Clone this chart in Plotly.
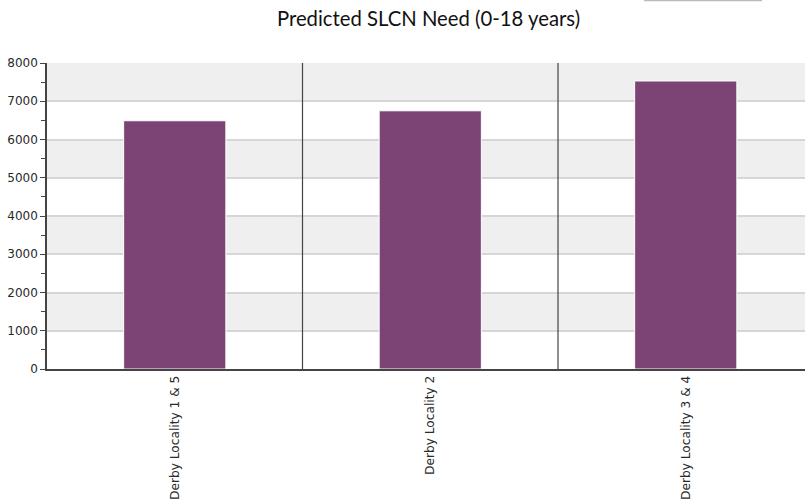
import plotly.graph_objects as go

categories = ["Derby Locality 1 & 5", "Derby Locality 2", "Derby Locality 3 & 4"]
values = [6490, 6750, 7530]
y_ticks = [0, 1000, 2000, 3000, 4000, 5000, 6000, 7000, 8000]
title_text = "Predicted SLCN Need (0-18 years)"

fig = go.Figure()
fig.add_trace(go.Bar(
    x=categories, y=values, width=0.4,
    marker=dict(color="#7b4474", line=dict(color="#ffffff", width=1)),
    hoverinfo="x+y",
))

shapes = []
# alternating bands
for i in range(len(y_ticks) - 1):
    if i % 2 == 1:
        shapes.append(dict(type="rect", xref="paper", yref="y", x0=0, x1=1,
                           y0=y_ticks[i], y1=y_ticks[i + 1],
                           fillcolor="#efefef", line=dict(width=0), layer="below"))
# category separators
for k in range(1, len(categories)):
    shapes.append(dict(type="line", xref="x", yref="paper", x0=k - 0.5, x1=k - 0.5,
                       y0=0, y1=1, line=dict(color="#444444", width=1.2)))
# clipped legend box edge at top right
shapes.append(dict(type="line", xref="paper", yref="paper", x0=(644 - 47) / 758, x1=(762 - 47) / 758,
                   y0=1 + 62.5 / 306, y1=1 + 62.5 / 306,
                   line=dict(color="#bbbbbb", width=1.5)))

fig.update_layout(
    width=805, height=502,
    margin=dict(l=47, r=0, t=63, b=133, autoexpand=False),
    plot_bgcolor="white", paper_bgcolor="white",
    shapes=shapes,
    showlegend=False,
    title=dict(text=title_text, x=428.5 / 805, xanchor="center", y=1 - 19 / 502, yanchor="middle",
               font=dict(family="Lato, DejaVu Sans", size=20.3, color="#111111")),
    bargap=0.6,
)
fig.update_xaxes(
    automargin=False,
    range=[-0.5, -0.5 + 758 / 255.5],
    tickangle=-90, tickfont=dict(family="DejaVu Sans", size=12.2, color="#2a2a2a"),
    showline=True, linecolor="#444444", linewidth=1.5, ticks="", showgrid=False,
)
fig.update_yaxes(
    automargin=False,
    range=[0, 8000], tickvals=y_ticks, ticktext=[str(v) for v in y_ticks],
    tickfont=dict(family="DejaVu Sans", size=12, color="#2a2a2a"),
    showline=True, linecolor="#444444", linewidth=1.5,
    ticks="outside", ticklen=5, tickcolor="#444444",
    minor=dict(dtick=500, ticks="outside", ticklen=4, tickcolor="#444444", showgrid=False),
    showgrid=True, gridcolor="#d6d6d6", gridwidth=1.5, zeroline=False,
)

fig.write_html("out.html", config={"displayModeBar": False},
               post_script="document.body.style.margin='0';")
